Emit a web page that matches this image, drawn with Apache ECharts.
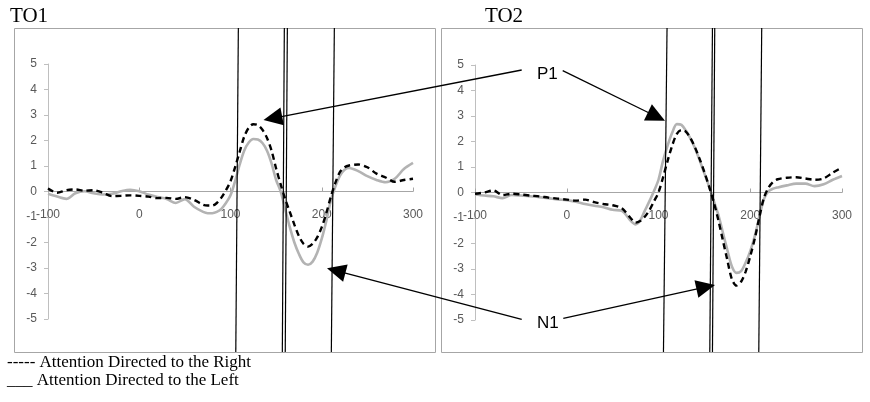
<!DOCTYPE html>
<html><head><meta charset="utf-8">
<script src="https://cdn.jsdelivr.net/npm/echarts@6/dist/echarts.min.js"></script>
<style>html,body{margin:0;padding:0;background:#fff}#c{width:870px;height:402px}</style>
</head><body><div id="c"></div>
<script>
// time points (ms)
const times = [-100,-90,-80,-70,-60,-50,-40,-30,-20,-10,0,10,20,30,40,50,60,70,
  75,80,85,90,95,100,105,110,115,120,125,130,135,140,145,150,155,160,165,170,175,180,185,190,195,200,205,210,215,220,225,230,
  240,250,260,270,280,290,300];
// TO1 – attention right (dashed)
const to1Right = [0.12,-0.05,0.05,0.08,0.03,0.05,-0.05,-0.18,-0.17,-0.15,-0.17,-0.2,-0.26,-0.25,-0.29,-0.22,-0.33,-0.52,
  -0.55,-0.55,-0.45,-0.24,0.05,0.4,0.95,1.55,2.15,2.5,2.64,2.6,2.42,2.1,1.6,0.9,0.28,-0.3,-0.8,-1.3,-1.75,-2.05,-2.16,-2.05,-1.8,-1.4,-0.85,-0.2,0.35,0.77,0.95,1.02,
  1.06,0.95,0.7,0.55,0.38,0.45,0.5];
// TO1 – attention left (grey solid)
const to1Left = [-0.09,-0.2,-0.29,-0.07,0.01,-0.07,-0.12,-0.09,0.01,0.07,0.01,-0.12,-0.22,-0.29,-0.45,-0.3,-0.6,-0.8,
  -0.85,-0.85,-0.8,-0.68,-0.45,-0.15,0.4,1.05,1.6,1.92,2.06,2.04,1.9,1.6,1.1,0.45,0.0,-0.7,-1.4,-2.0,-2.45,-2.78,-2.87,-2.75,-2.4,-1.85,-1.15,-0.35,0.2,0.62,0.85,0.92,
  0.8,0.6,0.45,0.36,0.5,0.88,1.12];
// TO2 – attention right (dashed)
const to2Right = [-0.05,0.0,0.08,-0.1,-0.05,-0.08,-0.12,-0.15,-0.2,-0.24,-0.28,-0.32,-0.28,-0.38,-0.45,-0.5,-0.62,-1.02,
  -1.18,-1.12,-0.95,-0.7,-0.35,0.0,0.6,1.25,1.85,2.3,2.45,2.38,2.12,1.75,1.3,0.8,0.25,-0.35,-1.05,-1.85,-2.65,-3.4,-3.65,-3.5,-3.1,-2.5,-1.8,-0.95,-0.2,0.2,0.42,0.52,
  0.58,0.6,0.55,0.5,0.55,0.78,0.98];
// TO2 – attention left (grey solid)
const to2Left = [-0.08,-0.12,-0.15,-0.22,-0.1,-0.12,-0.15,-0.18,-0.22,-0.27,-0.3,-0.36,-0.45,-0.52,-0.58,-0.68,-0.72,-1.12,
  -1.25,-1.1,-0.72,-0.35,0.05,0.5,1.25,1.85,2.35,2.68,2.65,2.42,2.1,1.72,1.25,0.75,0.25,-0.3,-0.85,-1.55,-2.25,-2.9,-3.15,-3.08,-2.75,-2.3,-1.7,-0.95,-0.25,0.05,0.15,0.2,
  0.28,0.35,0.35,0.25,0.32,0.5,0.65];
// axis ticks
const xTicks = [-100, 0, 100, 200, 300];
const yTicks = [-5,-4,-3,-2,-1,0,1,2,3,4,5];
// time markers (vertical lines), top and bottom ends, in ms
const markers1Top = [108.6, 159.0, 162.3, 213.8];
const markers1Bottom = [105.8, 156.8, 160.0, 210.5];
const markers2Top = [109.3, 158.8, 161.3, 212.5];
const markers2Bottom = [105.4, 155.9, 158.8, 209.3];
const titles = ['TO1', 'TO2'];
const legendLines = ['----- Attention Directed to the Right', '___ Attention Directed to the Left'];

const chart = echarts.init(document.getElementById('c'), null, {renderer: 'canvas'});
const pairs = a => times.map((t, i) => [t, a[i]]);
const axisFont = "'Liberation Sans Narrow', 'Liberation Sans', sans-serif";
const GRID_H = 255;
function xAx(g) {
  return {gridIndex: g, type: 'value', min: xTicks[0], max: xTicks[xTicks.length-1], interval: 100,
    axisLine: {onZero: true, lineStyle: {color: '#a6a6a6', width: 1}},
    axisTick: {inside: true, length: 4, lineStyle: {color: '#a6a6a6'}},
    // labels sit just below the zero line, as in the original
    axisLabel: {margin: 17 - GRID_H / 2, color: '#595959', fontSize: 12, fontFamily: axisFont},
    splitLine: {show: false}};
}
function yAx(g) {
  return {gridIndex: g, type: 'value', min: yTicks[0], max: yTicks[yTicks.length-1], interval: 1,
    axisLine: {show: true, onZero: false, lineStyle: {color: '#bfbfbf', width: 1}},
    axisTick: {show: true, length: 4, lineStyle: {color: '#bfbfbf'}},
    axisLabel: {margin: 11, color: '#595959', fontSize: 12, fontFamily: axisFont},
    splitLine: {show: false}};
}
const grey = {type: 'line', showSymbol: false, smooth: 0.3, silent: true,
  lineStyle: {color: '#b3b3b3', width: 2.6}, z: 2};
const dash = {type: 'line', showSymbol: false, smooth: 0.3, silent: true,
  lineStyle: {color: '#000', width: 2.4, type: [6, 4]}, z: 3};
chart.setOption({
  animation: false,
  grid: [
    {left: 48, top: 64, width: 365, height: GRID_H},
    {left: 475, top: 65, width: 367, height: GRID_H}
  ],
  xAxis: [xAx(0), xAx(1)],
  yAxis: [yAx(0), yAx(1)],
  series: [
    Object.assign({}, grey, {xAxisIndex: 0, yAxisIndex: 0, data: pairs(to1Left)}),
    Object.assign({}, dash, {xAxisIndex: 0, yAxisIndex: 0, data: pairs(to1Right)}),
    Object.assign({}, grey, {xAxisIndex: 1, yAxisIndex: 1, data: pairs(to2Left)}),
    Object.assign({}, dash, {xAxisIndex: 1, yAxisIndex: 1, data: pairs(to2Right)})
  ]
});

const g = [];
// panel frames
g.push({type: 'rect', shape: {x: 14.5, y: 28.5, width: 421, height: 324}, style: {fill: 'none', stroke: '#a6a6a6', lineWidth: 1}, z: 1});
g.push({type: 'rect', shape: {x: 441.5, y: 28.5, width: 421, height: 324}, style: {fill: 'none', stroke: '#a6a6a6', lineWidth: 1}, z: 1});
// marker lines
function markers(gi, tops, bottoms) {
  tops.forEach((t, i) => {
    const xt = chart.convertToPixel({gridIndex: gi}, [t, 0])[0];
    const xb = chart.convertToPixel({gridIndex: gi}, [bottoms[i], 0])[0];
    g.push({type: 'line', shape: {x1: xt, y1: 28, x2: xb, y2: 352}, style: {stroke: '#000', lineWidth: 1.2}, z: 10});
  });
}
markers(0, markers1Top, markers1Bottom);
markers(1, markers2Top, markers2Bottom);
// titles
g.push({type: 'text', x: 10, y: 16, style: {text: titles[0], font: "21px 'Liberation Serif', serif", fill: '#000', verticalAlign: 'middle'}, z: 10});
g.push({type: 'text', x: 485, y: 16, style: {text: titles[1], font: "21px 'Liberation Serif', serif", fill: '#000', verticalAlign: 'middle'}, z: 10});
// legend text
g.push({type: 'text', x: 7, y: 363, style: {text: legendLines[0], font: "17px 'Liberation Serif', serif", fill: '#000', verticalAlign: 'middle'}, z: 10});
g.push({type: 'text', x: 7, y: 381, style: {text: legendLines[1], font: "17px 'Liberation Serif', serif", fill: '#000', verticalAlign: 'middle'}, z: 10});
// annotation labels
g.push({type: 'text', x: 537, y: 74, style: {text: 'P1', font: "17px 'Liberation Sans', sans-serif", fill: '#000', verticalAlign: 'middle'}, z: 10});
g.push({type: 'text', x: 537, y: 323, style: {text: 'N1', font: "17px 'Liberation Sans', sans-serif", fill: '#000', verticalAlign: 'middle'}, z: 10});
// arrows
function arrow(x1, y1, x2, y2) {
  const dx = x2 - x1, dy = y2 - y1, L = Math.hypot(dx, dy);
  const ux = dx / L, uy = dy / L, hl = 19, hw = 9;
  const bx = x2 - ux * hl, by = y2 - uy * hl;
  g.push({type: 'line', shape: {x1: x1, y1: y1, x2: bx + ux * 2, y2: by + uy * 2}, style: {stroke: '#000', lineWidth: 1.3}, z: 11});
  g.push({type: 'polygon', shape: {points: [[x2, y2], [bx - uy * hw, by + ux * hw], [bx + uy * hw, by - ux * hw]]}, style: {fill: '#000'}, z: 11});
}
arrow(521.7, 70, 263.5, 120);
arrow(562.7, 70.7, 665, 120.7);
arrow(521.7, 319.3, 327, 268.3);
arrow(563.3, 318.3, 715, 285);
chart.setOption({graphic: g});
</script>
</body></html>
